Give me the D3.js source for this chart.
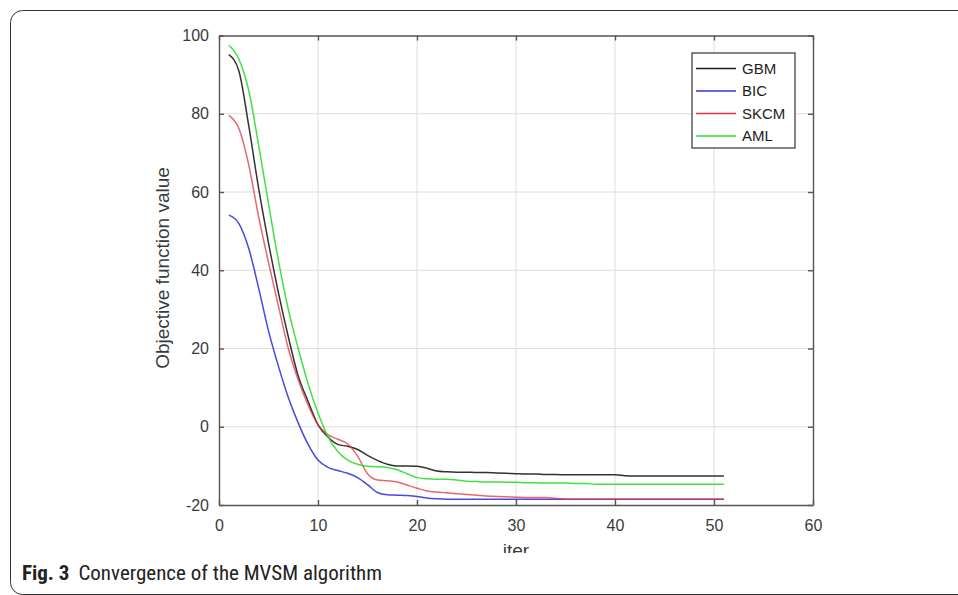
<!DOCTYPE html>
<html>
<head>
<meta charset="utf-8">
<script src="https://cdn.jsdelivr.net/npm/d3@7/dist/d3.min.js"></script>
<style>
  html, body { margin: 0; padding: 0; background: #fff; }
  svg { display: block; }
</style>
</head>
<body>
<svg id="chart" width="958" height="595"></svg>
<script>
(function () {
  'use strict';

  // iteracoes 1..51
  var iters = d3.range(1, 52);

  var seriesNames = ['GBM', 'BIC', 'SKCM', 'AML'];
  var seriesColors = ['#1c1c1c', '#3434dc', '#e2343c', '#2ede2e'];

  var gbm = [95.1, 91, 77, 61, 47, 34.3, 23, 13, 6.5, 0.5,
    -2.6, -4.5, -5, -5.8, -7.3, -8.6, -9.6, -10, -10, -10.1,
    -10.6, -11.3, -11.5, -11.6, -11.6, -11.7, -11.7, -11.8, -11.9, -12,
    -12.1, -12.1, -12.2, -12.2, -12.3, -12.3, -12.3, -12.3, -12.3, -12.3,
    -12.5, -12.6, -12.6, -12.6, -12.6, -12.6, -12.6, -12.6, -12.6, -12.6, -12.6];

  var bic = [54.1, 52, 45.6, 35.5, 24.5, 15.5, 7.5, 1, -4.5, -8.5,
    -10.4, -11.2, -11.9, -13, -14.8, -16.8, -17.4, -17.5, -17.6, -17.8,
    -18.2, -18.4, -18.5, -18.5, -18.5, -18.5, -18.5, -18.5, -18.5, -18.5,
    -18.5, -18.5, -18.5, -18.5, -18.5, -18.5, -18.5, -18.5, -18.5, -18.5,
    -18.5, -18.5, -18.5, -18.5, -18.5, -18.5, -18.5, -18.5, -18.5, -18.5, -18.5];

  var skcm = [79.6, 76.3, 67, 53.7, 42, 30.9, 20, 12, 5.5, 0.5,
    -2, -3.2, -4.4, -7.5, -12, -13.6, -13.8, -14.1, -14.9, -15.7,
    -16.4, -16.7, -16.9, -17.1, -17.3, -17.5, -17.7, -17.8, -17.9, -18,
    -18.1, -18.1, -18.1, -18.3, -18.5, -18.5, -18.5, -18.5, -18.5, -18.5,
    -18.5, -18.5, -18.5, -18.5, -18.5, -18.5, -18.5, -18.5, -18.5, -18.5, -18.5];

  var aml = [97.5, 94, 86, 72, 57, 42.5, 30, 20, 11, 3.5,
    -2.5, -6.3, -8.5, -9.6, -10.1, -10.2, -10.4, -11, -12, -13,
    -13.3, -13.4, -13.4, -13.6, -13.9, -14, -14.1, -14.1, -14.2, -14.2,
    -14.3, -14.3, -14.4, -14.4, -14.4, -14.5, -14.5, -14.7, -14.7, -14.7,
    -14.7, -14.7, -14.7, -14.7, -14.7, -14.7, -14.7, -14.7, -14.7, -14.7, -14.7];

  var xTicks = [0, 10, 20, 30, 40, 50, 60];
  var yTicks = [-20, 0, 20, 40, 60, 80, 100];

  var xLabel = 'iter';
  var yLabel = 'Objective function value';
  var captionBold = 'Fig. 3';
  var captionText = 'Convergence of the MVSM algorithm';

  var allSeries = [gbm, bic, skcm, aml];

  var plot = { left: 219, right: 813, top: 35.5, bottom: 505 };
  var axisColor = '#555';
  var textColor = '#3a3a3a';
  var font = 'Arial, "Liberation Sans", sans-serif';

  var svg = d3.select('#chart');

  // moldura arredondada do artigo
  svg.append('rect')
    .attr('x', 10.5).attr('y', 10.5)
    .attr('width', 1000).attr('height', 584)
    .attr('rx', 12).attr('ry', 12)
    .attr('fill', 'none')
    .attr('stroke', '#333')
    .attr('stroke-width', 1);

  // figura cortada logo abaixo do rotulo "iter"
  svg.append('clipPath').attr('id', 'figClip')
    .append('rect').attr('x', 11).attr('y', 11).attr('width', 940).attr('height', 542);

  var fig = svg.append('g').attr('clip-path', 'url(#figClip)');

  var x = d3.scaleLinear().domain([0, 60]).range([plot.left, plot.right]);
  var y = d3.scaleLinear().domain([-20, 100]).range([plot.bottom, plot.top]);

  // grade
  var grid = fig.append('g');
  grid.selectAll('.vgrid').data(xTicks.slice(1, -1)).enter().append('line')
    .attr('x1', function (d) { return x(d); }).attr('x2', function (d) { return x(d); })
    .attr('y1', plot.top).attr('y2', plot.bottom)
    .attr('stroke', '#dedede').attr('stroke-width', 1);
  grid.selectAll('.hgrid').data(yTicks.slice(1, -1)).enter().append('line')
    .attr('y1', function (d) { return y(d); }).attr('y2', function (d) { return y(d); })
    .attr('x1', plot.left).attr('x2', plot.right)
    .attr('stroke', '#dedede').attr('stroke-width', 1);

  // linhas das series
  var line = d3.line()
    .x(function (d, i) { return x(iters[i]); })
    .y(function (d) { return y(d); })
    .curve(d3.curveMonotoneX);

  allSeries.forEach(function (s, i) {
    fig.append('path')
      .datum(s)
      .attr('d', line)
      .attr('fill', 'none')
      .attr('stroke', seriesColors[i])
      .attr('stroke-opacity', i === 2 ? 0.75 : 0.9)
      .attr('stroke-width', 1.5);
  });

  // eixos com ticks para dentro
  function styleAxis(g) {
    g.selectAll('path, line').attr('stroke', axisColor).attr('stroke-width', 1.4);
    g.selectAll('text')
      .attr('fill', textColor)
      .style('font-family', font)
      .style('font-size', '16px');
  }

  // hifen simples no lugar do sinal de menos
  function plain(d) { return String(d); }

  fig.append('g')
    .attr('transform', 'translate(0,' + plot.bottom + ')')
    .call(d3.axisBottom(x).tickValues(xTicks).tickFormat(plain).tickSizeInner(-5).tickSizeOuter(0).tickPadding(15))
    .call(styleAxis);

  fig.append('g')
    .attr('transform', 'translate(0,' + plot.top + ')')
    .call(d3.axisTop(x).tickValues(xTicks).tickSizeInner(-5).tickSizeOuter(0).tickFormat(''))
    .call(styleAxis);

  fig.append('g')
    .attr('transform', 'translate(' + plot.left + ',0)')
    .call(d3.axisLeft(y).tickValues(yTicks).tickFormat(plain).tickSizeInner(-5).tickSizeOuter(0).tickPadding(10))
    .call(styleAxis);

  fig.append('g')
    .attr('transform', 'translate(' + plot.right + ',0)')
    .call(d3.axisRight(y).tickValues(yTicks).tickSizeInner(-5).tickSizeOuter(0).tickFormat(''))
    .call(styleAxis);

  // rotulos dos eixos
  fig.append('text')
    .attr('x', (plot.left + plot.right) / 2)
    .attr('y', 557)
    .attr('text-anchor', 'middle')
    .attr('fill', textColor)
    .style('font-family', font)
    .style('font-size', '19px')
    .text(xLabel);

  fig.append('text')
    .attr('transform', 'translate(169,' + 268 + ') rotate(-90)')
    .attr('text-anchor', 'middle')
    .attr('fill', textColor)
    .style('font-family', font)
    .style('font-size', '19px')
    .text(yLabel);

  // legenda
  var legend = fig.append('g');
  legend.append('rect')
    .attr('x', 692).attr('y', 53)
    .attr('width', 103).attr('height', 95)
    .attr('fill', '#fff')
    .attr('stroke', '#444').attr('stroke-width', 1.3);

  seriesNames.forEach(function (name, i) {
    var ly = 68.5 + i * 22.5;
    legend.append('line')
      .attr('x1', 696).attr('x2', 736)
      .attr('y1', ly).attr('y2', ly)
      .attr('stroke', seriesColors[i]).attr('stroke-width', 1.3);
    legend.append('text')
      .attr('x', 742).attr('y', ly)
      .attr('dy', '0.35em')
      .attr('fill', '#222')
      .style('font-family', font)
      .style('font-size', '15px')
      .text(name);
  });

  // legenda da figura
  var cap = svg.append('text')
    .attr('x', 22).attr('y', 580)
    .attr('fill', '#222')
    .style('font-family', '"Liberation Sans Narrow", "Roboto Condensed", "Liberation Sans", sans-serif')
    .style('font-size', '21px');
  cap.append('tspan').style('font-weight', 'bold').text(captionBold);
  cap.append('tspan').attr('dx', 9).text(captionText);

}());
</script>
</body>
</html>
